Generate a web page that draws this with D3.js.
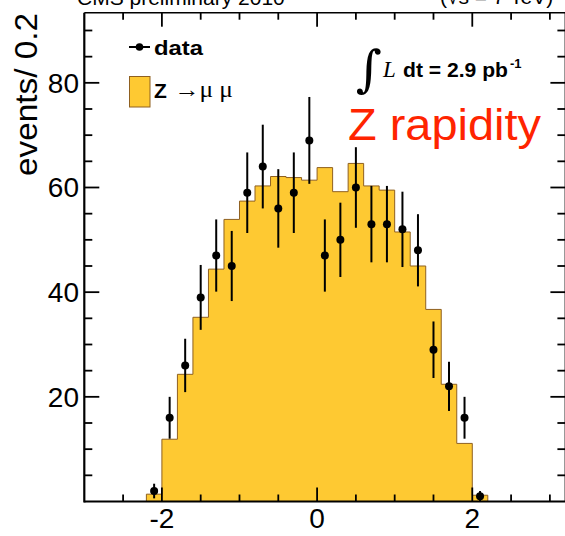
<!DOCTYPE html>
<html>
<head>
<meta charset="utf-8">
<script src="https://cdn.jsdelivr.net/npm/d3@7/dist/d3.min.js"></script>
<style>
html,body{margin:0;padding:0;background:#fff;}
svg{display:block;}
text{font-family:"Liberation Sans",Arial,Helvetica,sans-serif;}
</style>
</head>
<body>
<svg id="chart" width="565" height="536"></svg>
<script>
// ---- data ----
const binLowEdges = [-2.2,-2.0,-1.8,-1.6,-1.4,-1.2,-1.0,-0.8,-0.6,-0.4,-0.2,0.0,0.2,0.4,0.6,0.8,1.0,1.2,1.4,1.6,1.8,2.0];
const binWidth = 0.2;
const mcCounts = [1.4,11.9,24.3,35.2,44.4,53.9,57.4,60.3,62.1,61.9,61.4,63.8,59.2,64.6,60.3,59.5,51.5,45.0,36.7,22.4,11.1,1.2];
const dataCounts = [2,16,26,39,47,45,59,64,56,59,69,47,50,60,53,53,52,48,29,22,16,1];
const dataErrors = [1.4,4.0,5.1,6.2,6.9,6.7,7.7,8.0,7.5,7.7,8.3,6.9,7.1,7.7,7.3,7.3,7.2,6.9,5.4,4.7,4.0,1.0];
const xTickLabels = [-2,0,2];
const yTickLabels = [20,40,60,80];
const xDomain = [-3,3.2];
const yDomain = [0,93.4];

// ---- drawing ----
const svg = d3.select("#chart");
const x = d3.scaleLinear().domain(xDomain).range([84.3,565.4]);
const y = d3.scaleLinear().domain(yDomain).range([501.5,12.7]);

const fillCol = "#fec932", edgeCol = "#8f6020";

// cut-off header texts (cropped at top edge as in the reference)
svg.append("text").attr("x",77).attr("y",5).attr("font-size",21).attr("fill","#000")
  .text("CMS preliminary 2010");
svg.append("text").attr("x",440).attr("y",4).attr("font-size",21).attr("fill","#000")
  .text("(\u221As = 7 TeV)");

// histogram (step outline)
const pts = [];
pts.push([binLowEdges[0], 0]);
binLowEdges.forEach((lo,i)=>{
  pts.push([lo, mcCounts[i]]);
  pts.push([lo+binWidth, mcCounts[i]]);
});
pts.push([binLowEdges[binLowEdges.length-1]+binWidth, 0]);
const line = d3.line().x(d=>x(d[0])).y(d=>y(d[1]));
svg.append("path").attr("d", line(pts)+"Z").attr("fill",fillCol)
  .attr("stroke",edgeCol).attr("stroke-width",1);

// data points with error bars
const g = svg.append("g");
dataCounts.forEach((n,i)=>{
  const cx = x(binLowEdges[i]+binWidth/2);
  const e = dataErrors[i];
  g.append("line").attr("x1",cx).attr("x2",cx)
    .attr("y1",y(Math.max(0,n-e))).attr("y2",y(n+e))
    .attr("stroke","#000").attr("stroke-width",2);
  g.append("circle").attr("cx",cx).attr("cy",y(n)).attr("r",4).attr("fill","#000");
});

// axes frame
const frame = svg.append("g").attr("stroke","#000");
frame.append("line").attr("x1",x.range()[0]).attr("x2",x.range()[1]).attr("y1",y(0)).attr("y2",y(0)).attr("stroke-width",2.2);
frame.append("line").attr("x1",x.range()[0]).attr("x2",x.range()[1]).attr("y1",y.range()[1]).attr("y2",y.range()[1]).attr("stroke-width",1.6);
frame.append("line").attr("x1",x.range()[0]).attr("x2",x.range()[0]).attr("y1",y(0)+1).attr("y2",y.range()[1]).attr("stroke-width",2.2);
frame.append("line").attr("x1",x.range()[1]).attr("x2",x.range()[1]).attr("y1",y(0)).attr("y2",y.range()[1]).attr("stroke-width",1.6);

// x ticks (bottom + top)
const xMinor = d3.range(-2.5,3.01,0.5);
xMinor.forEach(v=>{
  const major = Math.abs(v % 2) < 1e-9;
  const len = major ? 14 : 7;
  frame.append("line").attr("x1",x(v)).attr("x2",x(v)).attr("y1",y(0)).attr("y2",y(0)-len).attr("stroke-width",1.8);
  frame.append("line").attr("x1",x(v)).attr("x2",x(v)).attr("y1",y.range()[1]).attr("y2",y.range()[1]+len).attr("stroke-width",1.8);
});
// y ticks (left + right)
const yMinor = d3.range(5,91,5);
yMinor.forEach(v=>{
  const major = v % 20 === 0;
  const len = major ? 15 : 8;
  frame.append("line").attr("y1",y(v)).attr("y2",y(v)).attr("x1",x.range()[0]).attr("x2",x.range()[0]+len).attr("stroke-width",1.8);
  frame.append("line").attr("y1",y(v)).attr("y2",y(v)).attr("x1",x.range()[1]).attr("x2",x.range()[1]-len).attr("stroke-width",1.8);
});

// tick labels
svg.append("g").selectAll("text").data(xTickLabels).join("text")
  .attr("x",d=>x(d)).attr("y",528).attr("text-anchor","middle").attr("font-size",28)
  .text(d=>d<0 ? "-"+Math.abs(d) : d);
svg.append("g").selectAll("text").data(yTickLabels).join("text")
  .attr("x",79).attr("y",d=>y(d)+10).attr("text-anchor","end").attr("font-size",28)
  .text(d=>d);

// axis titles
svg.append("text").attr("transform","translate(37,176) rotate(-90)")
  .attr("font-size",31).attr("textLength",163).attr("lengthAdjust","spacingAndGlyphs").text("events/ 0.2");
svg.append("text").attr("x",503).attr("y",550).attr("font-size",26).text("y");

// legend
svg.append("line").attr("x1",129).attr("x2",150).attr("y1",47).attr("y2",47).attr("stroke","#000").attr("stroke-width",2);
svg.append("circle").attr("cx",139.5).attr("cy",47).attr("r",3.8).attr("fill","#000");
svg.append("text").attr("x",154).attr("y",55).attr("font-size",21).attr("font-weight","bold")
  .attr("textLength",49).attr("lengthAdjust","spacingAndGlyphs").text("data");
svg.append("rect").attr("x",129.5).attr("y",76.5).attr("width",20.5).attr("height",30.5)
  .attr("fill",fillCol).attr("stroke",edgeCol).attr("stroke-width",1);
svg.append("text").attr("x",154).attr("y",98).attr("font-size",21).attr("font-weight","bold").text("Z");
svg.append("text").attr("x",174).attr("y",97).attr("font-size",23)
  .attr("textLength",59).attr("lengthAdjust","spacingAndGlyphs")
  .style("font-family","'Liberation Serif',serif").text("\u2192\u03BC \u03BC");

// luminosity
svg.append("text").attr("x",356).attr("y",86).attr("font-size",50).style("font-family","'DejaVu Serif',serif").text("\u222B");
svg.append("text").attr("x",383).attr("y",77).attr("font-size",23).attr("font-style","italic").style("font-family","'Liberation Serif',serif").text("L");
svg.append("text").attr("x",403).attr("y",77).attr("font-size",20).attr("font-weight","bold")
  .attr("textLength",105).attr("lengthAdjust","spacingAndGlyphs").text("dt = 2.9 pb");
svg.append("text").attr("x",510).attr("y",68).attr("font-size",13).attr("font-weight","bold").text("-1");

// title
svg.append("text").attr("x",348).attr("y",140).attr("font-size",45).attr("fill","#ff2400")
  .attr("textLength",193).attr("lengthAdjust","spacingAndGlyphs").text("Z rapidity");
</script>
</body>
</html>
